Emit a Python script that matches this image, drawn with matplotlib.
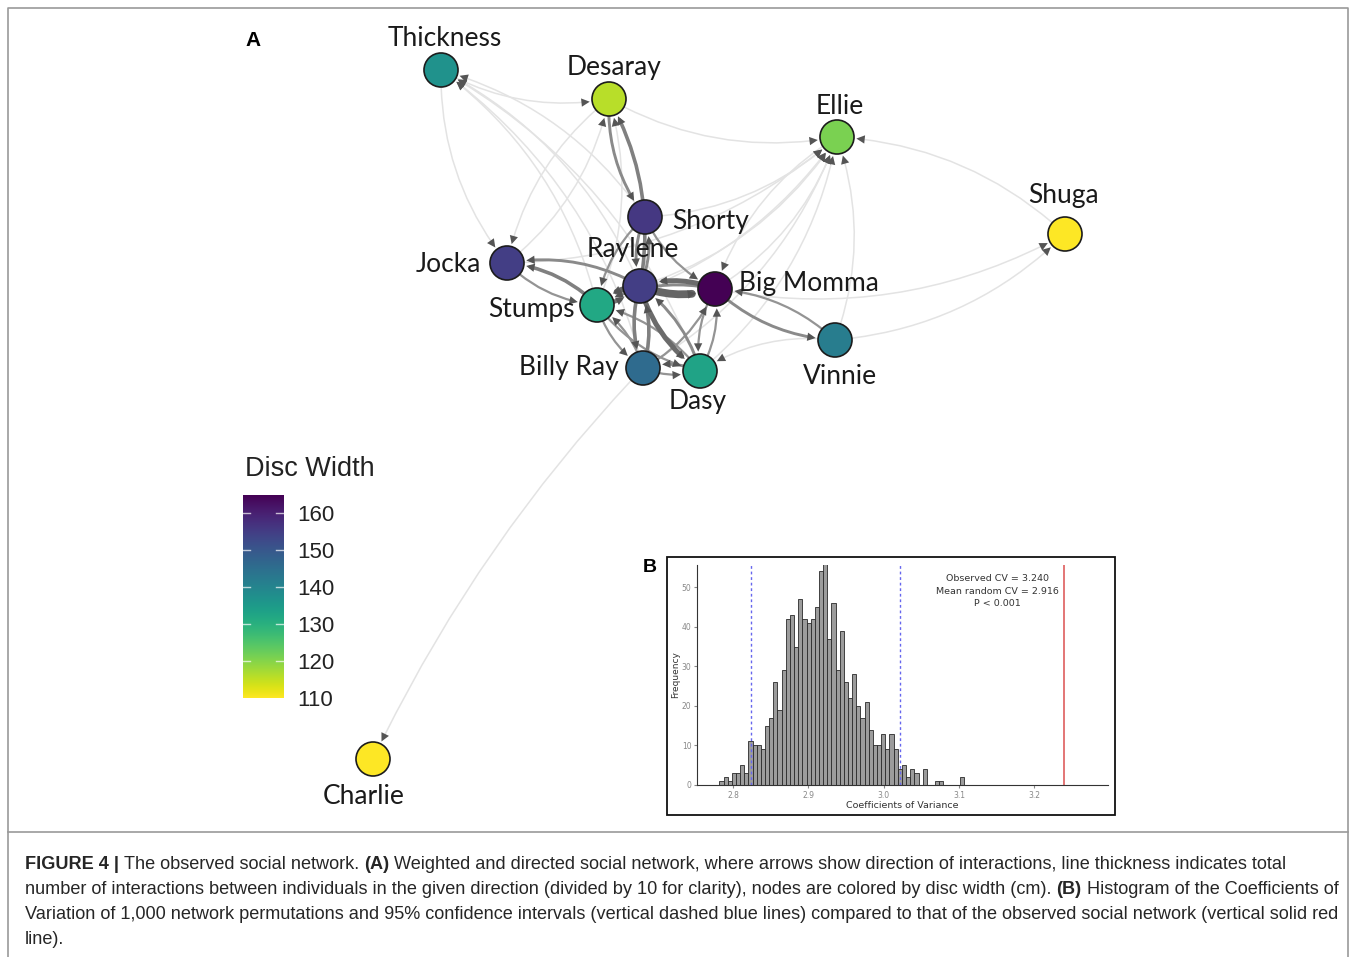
import matplotlib.pyplot as plt
import numpy as np
from matplotlib.patches import FancyArrowPatch, Rectangle
from matplotlib.colors import Normalize
from matplotlib import colormaps

# ---------------- network data ----------------
nodes = ['Thickness', 'Desaray', 'Ellie', 'Shuga', 'Shorty', 'Jocka', 'Raylene',
         'Big Momma', 'Stumps', 'Vinnie', 'Billy Ray', 'Dasy', 'Charlie']
disc_width = [137, 116, 121, 110, 156, 155, 155, 165, 132, 142, 146, 133, 110]
# layout coordinates (graph layout units)
layout_x = [4.41, 6.09, 8.37, 10.65, 6.45, 5.07, 6.40, 7.15, 5.97, 8.35, 6.43, 7.00, 3.73]
layout_y = [0.70, 0.99, 1.37, 2.34, 2.17, 2.63, 2.86, 2.89, 3.05, 3.40, 3.68, 3.71, 7.59]

# (from, to, interactions / 10)
edges = [
    ('Raylene', 'Big Momma', 10), ('Big Momma', 'Raylene', 6),
    ('Raylene', 'Stumps', 7), ('Stumps', 'Raylene', 5),
    ('Raylene', 'Dasy', 6), ('Dasy', 'Raylene', 3),
    ('Raylene', 'Billy Ray', 4), ('Billy Ray', 'Raylene', 4),
    ('Stumps', 'Jocka', 4), ('Raylene', 'Jocka', 3),
    ('Raylene', 'Desaray', 4), ('Desaray', 'Shorty', 3),
    ('Shorty', 'Raylene', 3), ('Raylene', 'Shorty', 3),
    ('Shorty', 'Big Momma', 2), ('Big Momma', 'Vinnie', 3), ('Vinnie', 'Big Momma', 2),
    ('Dasy', 'Billy Ray', 3), ('Billy Ray', 'Dasy', 2),
    ('Stumps', 'Billy Ray', 2), ('Stumps', 'Dasy', 2), ('Dasy', 'Stumps', 2),
    ('Billy Ray', 'Stumps', 2), ('Big Momma', 'Dasy', 2), ('Dasy', 'Big Momma', 2),
    ('Billy Ray', 'Big Momma', 2), ('Big Momma', 'Stumps', 3), ('Jocka', 'Stumps', 2),
    ('Shorty', 'Stumps', 2),
    ('Thickness', 'Desaray', 1), ('Desaray', 'Ellie', 1), ('Shuga', 'Ellie', 1),
    ('Raylene', 'Thickness', 1), ('Stumps', 'Thickness', 1), ('Billy Ray', 'Thickness', 1),
    ('Shorty', 'Thickness', 1), ('Dasy', 'Thickness', 1),
    ('Shorty', 'Ellie', 1), ('Raylene', 'Ellie', 1), ('Big Momma', 'Ellie', 1),
    ('Stumps', 'Ellie', 1), ('Dasy', 'Ellie', 1), ('Billy Ray', 'Ellie', 1),
    ('Jocka', 'Ellie', 1), ('Vinnie', 'Ellie', 1),
    ('Thickness', 'Jocka', 1), ('Desaray', 'Jocka', 1),
    ('Stumps', 'Desaray', 1), ('Jocka', 'Desaray', 1),
    ('Big Momma', 'Shuga', 1), ('Vinnie', 'Shuga', 1),
    ('Billy Ray', 'Charlie', 1), ('Vinnie', 'Dasy', 1), ('Ellie', 'Big Momma', 1),
]

cbar_ticks = [110, 120, 130, 140, 150, 160]

# ---------------- histogram data ----------------
cv_counts = [1, 2, 1, 3, 3, 5, 3, 11, 10, 10,
             9, 15, 17, 26, 19, 29, 42, 43, 35, 47,
             42, 41, 42, 45, 54, 56, 37, 46, 29, 39,
             26, 22, 28, 20, 17, 21, 14, 10, 10, 13,
             9, 13, 9, 4, 5, 2, 4, 3, 0, 4,
             0, 0, 1, 1, 0, 0, 0, 0, 2]
cv_start = 2.7818
cv_binwidth = 0.00551
ci_low, ci_high = 2.8233, 3.0215
observed_cv = 3.240
mean_random_cv = 2.916
cv_ticks = [2.8, 2.9, 3.0, 3.1, 3.2]
freq_ticks = [0, 10, 20, 30, 40, 50]

# ---------------- figure ----------------
W, H = 1357, 957
fig = plt.figure(figsize=(W / 100, H / 100), dpi=100)
ax = fig.add_axes([0, 0, 1, 1])
ax.set_xlim(0, W / 100)
ax.set_ylim(H / 100, 0)
ax.axis('off')

# outer frame and caption separator
ax.plot([0.08, 0.08, 13.48, 13.48], [9.57, 0.08, 0.08, 9.57], color='#9a9a9a', lw=1.2)
ax.plot([0.08, 13.48], [8.32, 8.32], color='#9a9a9a', lw=1.2)

norm = Normalize(110, 165)
cmap = colormaps['viridis_r']


def pos(name):
    i = nodes.index(name)
    return layout_x[i], layout_y[i]


# edges: light first, heavy on top
for src, dst, w in sorted(edges, key=lambda e: e[2]):
    p1, p2 = pos(src), pos(dst)
    shade = 0.89 if w == 1 else max(0.40, 0.66 - 0.04 * w)
    rad = 0.08 if dst == 'Charlie' else 0.18
    line = FancyArrowPatch(p1, p2, arrowstyle='-', connectionstyle=f'arc3,rad={rad}',
                           shrinkA=12, shrinkB=17, color=str(shade),
                           lw=0.6 + 0.5 * w, zorder=1 + 0.01 * w)
    ax.add_patch(line)
    head = FancyArrowPatch(p1, p2, arrowstyle='-|>,head_length=0.6,head_width=0.3',
                           connectionstyle=f'arc3,rad={rad}', shrinkA=12, shrinkB=14,
                           mutation_scale=10, fc='#555555', ec='none', lw=0, zorder=2)
    ax.add_patch(head)

ax.scatter(layout_x, layout_y, s=600, c=[cmap(norm(v)) for v in disc_width],
           edgecolors='#1c1c1c', linewidths=1.2, zorder=5)

# node labels
label_font = dict(family='Lato', fontsize=19, color='#1a1a1a', zorder=6)
label_place = {
    'Thickness': (0.04, -0.31, 'center'), 'Desaray': (0.05, -0.32, 'center'),
    'Ellie': (0.03, -0.30, 'center'), 'Shuga': (-0.02, -0.39, 'center'),
    'Shorty': (0.27, 0.04, 'left'), 'Jocka': (-0.26, 0.02, 'right'),
    'Raylene': (-0.07, -0.36, 'center'), 'Big Momma': (0.24, -0.05, 'left'),
    'Stumps': (-0.22, 0.04, 'right'), 'Vinnie': (0.05, 0.36, 'center'),
    'Billy Ray': (-0.24, 0.0, 'right'), 'Dasy': (-0.02, 0.31, 'center'),
    'Charlie': (-0.09, 0.37, 'center'),
}
for name in nodes:
    x, y = pos(name)
    dx, dy, ha = label_place[name]
    ax.text(x + dx, y + dy, name, ha=ha, va='center', **label_font)

ax.text(2.53, 0.40, 'A', fontsize=15, fontweight='bold', family='Liberation Sans',
        ha='center', va='center')
ax.text(6.50, 5.68, 'B', fontsize=14, fontweight='bold', family='Liberation Sans',
        ha='center', va='center')

# ---------------- colorbar ----------------
ax.text(3.10, 4.69, 'Disc Width', fontsize=19.5, family='Liberation Sans',
        color='#222222', ha='center', va='center')
cax = fig.add_axes([242.5 / W, 1 - 698 / H, 41 / W, 203 / H])
grad = np.linspace(110, 165, 256).reshape(-1, 1)
cax.imshow(grad, aspect='auto', cmap=cmap, norm=norm, origin='lower',
           extent=[0, 1, 110, 165])
cax.set_xlim(0, 1)
cax.set_ylim(110, 165)
for v in cbar_ticks[1:]:
    cax.plot([0, 0.18], [v, v], color='white', lw=1, alpha=0.7)
    cax.plot([0.82, 1], [v, v], color='white', lw=1, alpha=0.7)
cax.set_xticks([])
cax.set_yticks(cbar_ticks)
cax.yaxis.tick_right()
cax.tick_params(axis='y', length=0, pad=10, labelsize=16, labelcolor='#222222')
for lab in cax.get_yticklabels():
    lab.set_family('Liberation Sans')
for s in cax.spines.values():
    s.set_visible(False)

# ---------------- histogram panel ----------------
ax.add_patch(Rectangle((6.67, 5.57), 4.48, 2.58, fill=False, ec='#111111', lw=1.3, zorder=3))
hax = fig.add_axes([697 / W, 1 - 785 / H, 411 / W, 220 / H])
bin_left = cv_start + cv_binwidth * np.arange(len(cv_counts))
hax.bar(bin_left, cv_counts, width=cv_binwidth, align='edge', color='#9c9c9c',
        edgecolor='#2a2a2a', linewidth=0.6)
hax.axvline(ci_low, color='#6666ee', ls=(0, (2, 2)), lw=1)
hax.axvline(ci_high, color='#6666ee', ls=(0, (2, 2)), lw=1)
hax.axvline(observed_cv, color='#e06a6a', lw=1.3)
hax.set_xlim(2.752, 3.298)
hax.set_ylim(0, 55.6)
hax.set_xticks(cv_ticks)
hax.set_yticks(freq_ticks)
hax.set_xticklabels([f'{v:.1f}' for v in cv_ticks])
hax.tick_params(labelsize=5.5, labelcolor='#888888', color='#888888', length=2, pad=2)
hax.spines['top'].set_visible(False)
hax.spines['right'].set_visible(False)
for s in ('left', 'bottom'):
    hax.spines[s].set_color('#333333')
    hax.spines[s].set_linewidth(0.8)
hax.set_xlabel('Coefficients of Variance', fontsize=6.8, color='#333333', labelpad=1)
hax.set_ylabel('Frequency', fontsize=6.5, color='#333333', labelpad=1)
hax.patch.set_alpha(0)
hax.text(0.73, 0.96, f'Observed CV = {observed_cv:.3f}\nMean random CV = {mean_random_cv:.3f}\nP < 0.001',
         transform=hax.transAxes, ha='center', va='top', fontsize=6.8,
         color='#333333', linespacing=1.55)

# ---------------- caption ----------------
cap_font = dict(family='Liberation Sans', fontsize=13.05, color='#262626')
caption = [
    [('FIGURE 4 |', True), ('The observed social network.', False), ('(A)', True),
     ('Weighted and directed social network, where arrows show direction of interactions, '
      'line thickness indicates total', False)],
    [('number of interactions between individuals in the given direction (divided by 10 for '
      'clarity), nodes are colored by disc width (cm).', False), ('(B)', True),
     ('Histogram of the Coefficients of', False)],
    [('Variation of 1,000 network permutations and 95% confidence intervals (vertical dashed '
      'blue lines) compared to that of the observed social network (vertical solid red', False)],
    [('line).', False)],
]
renderer = fig.canvas.get_renderer()


def text_width(s, bold):
    t = ax.text(0, 0, s, fontweight='bold' if bold else 'normal', **cap_font)
    w = t.get_window_extent(renderer).width
    t.remove()
    return w


space = text_width('x x', False) - text_width('xx', False)
for i, line in enumerate(caption):
    x = 25
    y = 8.69 + 0.25 * i
    for seg, bold in line:
        t = ax.text(x / 100, y, seg, ha='left', va='baseline',
                    fontweight='bold' if bold else 'normal', **cap_font)
        x += t.get_window_extent(renderer).width + space

fig.savefig('out.png', dpi=100)
